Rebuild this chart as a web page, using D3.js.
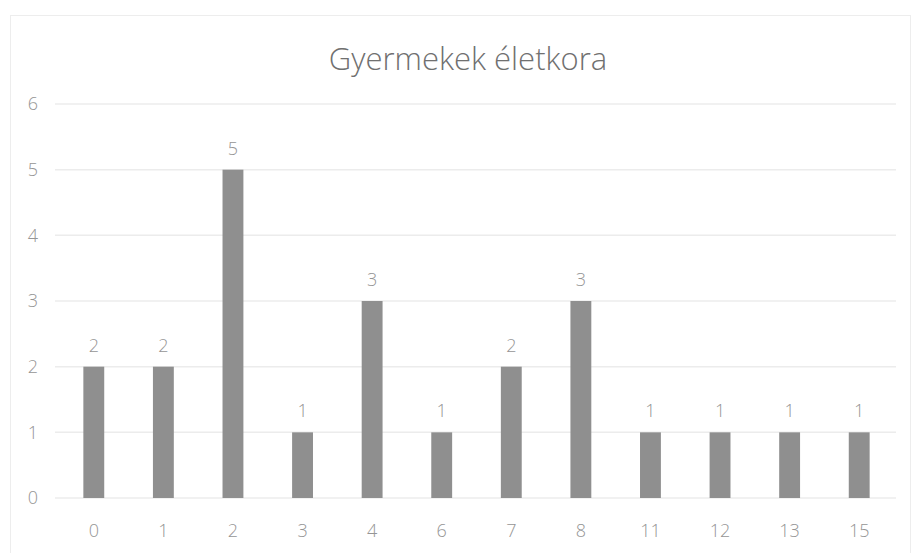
<!DOCTYPE html>
<html>
<head>
<meta charset="utf-8">
<script src="https://cdn.jsdelivr.net/npm/d3@7"></script>
<style>
  body { margin: 0; background: #fff; }
  text { font-family: "Open Sans", "Noto Sans", sans-serif; }
</style>
</head>
<body>
<div id="chart"></div>
<script>
const ages = ["0", "1", "2", "3", "4", "6", "7", "8", "11", "12", "13", "15"];
const counts = [2, 2, 5, 1, 3, 1, 2, 3, 1, 1, 1, 1];
const yTicks = [0, 1, 2, 3, 4, 5, 6];
const chartTitle = "Gyermekek életkora";

const W = 914, H = 553;
const margin = {top: 104, right: 20, bottom: 55, left: 59};
const width = 894 - margin.left;
const height = 498 - margin.top;

const svg = d3.select("#chart").append("svg")
    .attr("width", W)
    .attr("height", H);

// faint frame of the scanned chart
svg.append("rect")
    .attr("x", 10.5).attr("y", 15.5)
    .attr("width", W - 14).attr("height", H - 10)
    .attr("fill", "none")
    .attr("stroke", "#ededed");

svg.append("text")
    .attr("x", 468)
    .attr("y", 70)
    .attr("text-anchor", "middle")
    .style("font-size", "31px")
    .style("font-weight", "300")
    .attr("fill", "#707070")
    .text(chartTitle);

const g = svg.append("g")
    .attr("transform", "translate(" + margin.left + "," + margin.top + ")");

const x = d3.scaleBand()
    .domain(ages)
    .range([0, width])
    .paddingInner(0.7)
    .paddingOuter(0.35);

const y = d3.scaleLinear()
    .domain([0, 6])
    .range([height, 0]);

// gridlines
g.selectAll(".grid")
    .data(yTicks)
    .enter()
    .append("line")
    .attr("x1", -4)
    .attr("x2", width + 2)
    .attr("y1", d => y(d))
    .attr("y2", d => y(d))
    .attr("stroke", "#ececec")
    .attr("stroke-width", 1.5);

// y axis labels
const yAxis = g.append("g")
    .call(d3.axisLeft(y).tickValues(yTicks).tickSize(0).tickPadding(21).tickFormat(d3.format("d")));
yAxis.select(".domain").remove();
yAxis.selectAll("text")
    .style("font-size", "18px")
    .style("font-weight", "300")
    .attr("fill", "#959595")
    .style("font-family", "Open Sans, sans-serif");

// x axis labels
const xAxis = g.append("g")
    .attr("transform", "translate(0," + height + ")")
    .call(d3.axisBottom(x).tickSize(0).tickPadding(26));
xAxis.select(".domain").remove();
xAxis.selectAll("text")
    .style("font-size", "18px")
    .style("font-weight", "300")
    .attr("fill", "#959595")
    .style("font-family", "Open Sans, sans-serif");

const data = ages.map((a, i) => ({age: a, n: counts[i]}));

g.selectAll(".bar")
    .data(data)
    .enter()
    .append("rect")
    .attr("class", "bar")
    .attr("x", d => x(d.age))
    .attr("y", d => y(d.n))
    .attr("width", x.bandwidth())
    .attr("height", d => height - y(d.n))
    .attr("fill", "#8f8f8f");

g.selectAll(".val")
    .data(data)
    .enter()
    .append("text")
    .attr("x", d => x(d.age) + x.bandwidth() / 2)
    .attr("y", d => y(d.n) - 15)
    .attr("text-anchor", "middle")
    .style("font-size", "18px")
    .style("font-weight", "300")
    .attr("fill", "#959595")
    .text(d => d.n);
</script>
</body>
</html>
